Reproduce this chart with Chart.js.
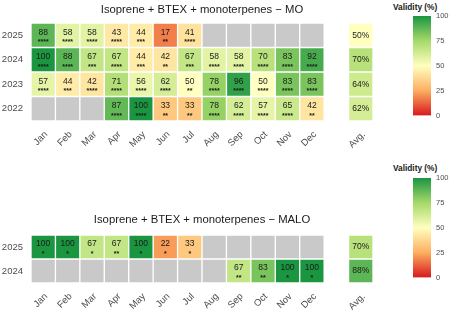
<!DOCTYPE html>
<html>
<head>
<meta charset="utf-8">
<script src="https://cdn.jsdelivr.net/npm/chart.js@4.4.0/dist/chart.umd.min.js"></script>
<style>
  body { margin: 0; width: 450px; height: 312px; background: #fff; position: relative; overflow: hidden; }
  canvas { position: absolute; }
  .legend-title { position: absolute; left: 393px; font: bold 8.3px "Liberation Sans", Arial, sans-serif; line-height: 10px; color: #1a1a1a; white-space: nowrap; }
</style>
</head>
<body>
<canvas id="moChart" width="390" height="156" style="left:0;top:0"></canvas>
<canvas id="maloChart" width="390" height="156" style="left:0;top:156px"></canvas>
<div class="legend-title" style="top:2px">Validity (%)</div>
<canvas id="moLegend" width="37" height="125" style="left:413px;top:0"></canvas>
<div class="legend-title" style="top:163px">Validity (%)</div>
<canvas id="maloLegend" width="37" height="125" style="left:413px;top:162px"></canvas>
<script>
const months = ["Jan", "Feb", "Mar", "Apr", "May", "Jun", "Jul", "Aug", "Sep", "Oct", "Nov", "Dec"];
const xLabels = [...months, "", "Avg."];

// MO, rows listed top to bottom
const moYears = ["2025", "2024", "2023", "2022"];
const mo2025 = [88, 58, 58, 43, 44, 17, 41, null, null, null, null, null];
const mo2024 = [100, 88, 67, 67, 44, 42, 67, 58, 58, 70, 83, 92];
const mo2023 = [57, 44, 42, 71, 56, 62, 50, 78, 96, 50, 83, 83];
const mo2022 = [null, null, null, 87, 100, 33, 33, 78, 62, 57, 65, 42];
const moStars2025 = [4, 4, 4, 4, 3, 2, 4, 0, 0, 0, 0, 0];
const moStars2024 = [4, 4, 3, 4, 3, 2, 3, 4, 4, 4, 4, 4];
const moStars2023 = [4, 3, 4, 4, 4, 4, 2, 4, 4, 4, 4, 4];
const moStars2022 = [0, 0, 0, 4, 4, 2, 2, 4, 4, 4, 4, 2];
const moAvg = [50, 70, 64, 62];

// MALO
const maloYears = ["2025", "2024"];
const malo2025 = [100, 100, 67, 67, 100, 22, 33, null, null, null, null, null];
const malo2024 = [null, null, null, null, null, null, null, null, 67, 83, 100, 100];
const maloStars2025 = [1, 1, 1, 2, 1, 1, 1, 0, 0, 0, 0, 0];
const maloStars2024 = [0, 0, 0, 0, 0, 0, 0, 0, 2, 2, 1, 1];
const maloAvg = [70, 88];

const legendTicks = [0, 25, 50, 75, 100];

const rdylgn = ["#d7191c", "#fdae61", "#ffffbf", "#a6d96a", "#1a9641"];
const naGrey = "#c9c9c9";
const font = "'Liberation Sans', Arial, sans-serif";

function hexToRgb(h) {
  return [1, 3, 5].map(i => parseInt(h.slice(i, i + 2), 16));
}

function fillFor(v) {
  if (v == null) return naGrey;
  const t = Math.max(0, Math.min(1, v / 100)) * (rdylgn.length - 1);
  const i = Math.min(Math.floor(t), rdylgn.length - 2);
  const f = t - i;
  const a = hexToRgb(rdylgn[i]), b = hexToRgb(rdylgn[i + 1]);
  const c = a.map((x, k) => Math.round(x + (b[k] - x) * f));
  return `rgb(${c[0]},${c[1]},${c[2]})`;
}

const cellText = {
  id: "cellText",
  afterDatasetsDraw(chart) {
    const ctx = chart.ctx;
    ctx.save();
    ctx.textAlign = "center";
    ctx.textBaseline = "middle";
    ctx.fillStyle = "#1a1a1a";
    chart.data.datasets.forEach((ds, d) => {
      chart.getDatasetMeta(d).data.forEach((bar, j) => {
        const v = ds.values[j];
        if (v == null) return;
        const cy = (bar.y + bar.base) / 2;
        ctx.font = `8.5px ${font}`;
        if (j === xLabels.length - 1) {
          ctx.fillText(v + "%", bar.x, cy);
        } else {
          ctx.fillText(String(v), bar.x, cy - 3);
          ctx.font = `bold 7px ${font}`;
          ctx.fillText("*".repeat(ds.stars[j]), bar.x, cy + 7);
        }
      });
    });
    ctx.restore();
  }
};

function drawHeatmap(canvasId, title, years, rows, stars, avg, pad) {
  const n = years.length;
  const datasets = rows.map((vals, r) => {
    const lo = n - 1 - r;
    const full = [...vals, null, avg[r]];
    return {
      data: full.map((v, j) => (j === 12 ? null : [lo, lo + 1])),
      values: full,
      stars: [...stars[r], 0, 0],
      backgroundColor: full.map(fillFor),
      borderColor: "#ffffff",
      borderWidth: 1,
      borderSkipped: false,
      grouped: false,
      barPercentage: 1,
      categoryPercentage: 1
    };
  });

  return new Chart(document.getElementById(canvasId), {
    type: "bar",
    data: { labels: xLabels, datasets },
    options: {
      responsive: false,
      animation: false,
      layout: { padding: { top: 0, right: 17, bottom: 0, left: 0 } },
      plugins: {
        legend: { display: false },
        tooltip: { enabled: false },
        title: {
          display: true,
          text: title,
          fullSize: false,
          color: "#1a1a1a",
          font: { family: font, size: 11.3, weight: "normal" },
          padding: { top: pad.titleTop, bottom: pad.titleBottom }
        }
      },
      scales: {
        x: {
          grid: { display: false, drawTicks: false },
          border: { display: false },
          ticks: {
            color: "#4d4d4d",
            font: { family: font, size: 9.5 },
            minRotation: 45,
            maxRotation: 45,
            autoSkip: false,
            padding: 8,
            labelOffset: 3
          },
          afterFit: s => { s.height = pad.xHeight; }
        },
        y: {
          min: 0,
          max: n,
          grid: { display: false, drawTicks: false },
          border: { display: false },
          ticks: {
            color: "#4d4d4d",
            font: { family: font, size: 9.5 },
            autoSkip: false,
            padding: 8,
            callback: v => years[n - 1 - Math.floor(v)]
          },
          afterBuildTicks: s => { s.ticks = years.map((y, i) => ({ value: n - 1 - i + 0.5 })); },
          afterFit: s => { s.width = 31; }
        }
      }
    },
    plugins: [cellText]
  });
}

function drawColorbar(canvasId) {
  return new Chart(document.getElementById(canvasId), {
    type: "bar",
    data: {
      labels: [""],
      datasets: [{
        data: [[legendTicks[0], legendTicks[legendTicks.length - 1]]],
        barPercentage: 1,
        categoryPercentage: 1,
        backgroundColor: ctx => {
          const area = ctx.chart.chartArea;
          if (!area) return rdylgn[2];
          const g = ctx.chart.ctx.createLinearGradient(0, area.bottom, 0, area.top);
          rdylgn.forEach((c, i) => g.addColorStop(i / (rdylgn.length - 1), c));
          return g;
        }
      }]
    },
    options: {
      responsive: false,
      animation: false,
      layout: { padding: { top: 16, bottom: 7, left: 0, right: 0 } },
      plugins: { legend: { display: false }, tooltip: { enabled: false }, title: { display: false } },
      scales: {
        x: { display: false },
        y: {
          position: "right",
          min: legendTicks[0],
          max: legendTicks[legendTicks.length - 1],
          grid: { display: false, drawTicks: false },
          border: { display: false },
          ticks: { color: "#4d4d4d", font: { family: font, size: 7.5 }, padding: 5 },
          afterBuildTicks: s => { s.ticks = legendTicks.map(v => ({ value: v })); },
          afterFit: s => { s.width = 19; }
        }
      }
    }
  });
}

drawHeatmap("moChart", "Isoprene + BTEX + monoterpenes \u2212 MO", moYears,
  [mo2025, mo2024, mo2023, mo2022],
  [moStars2025, moStars2024, moStars2023, moStars2022],
  moAvg, { titleTop: 3, titleBottom: 6.4, xHeight: 35 });

drawHeatmap("maloChart", "Isoprene + BTEX + monoterpenes \u2212 MALO", maloYears,
  [malo2025, malo2024],
  [maloStars2025, maloStars2024],
  maloAvg, { titleTop: 57.2, titleBottom: 8.2, xHeight: 29 });

drawColorbar("moLegend");
drawColorbar("maloLegend");
</script>
</body>
</html>
